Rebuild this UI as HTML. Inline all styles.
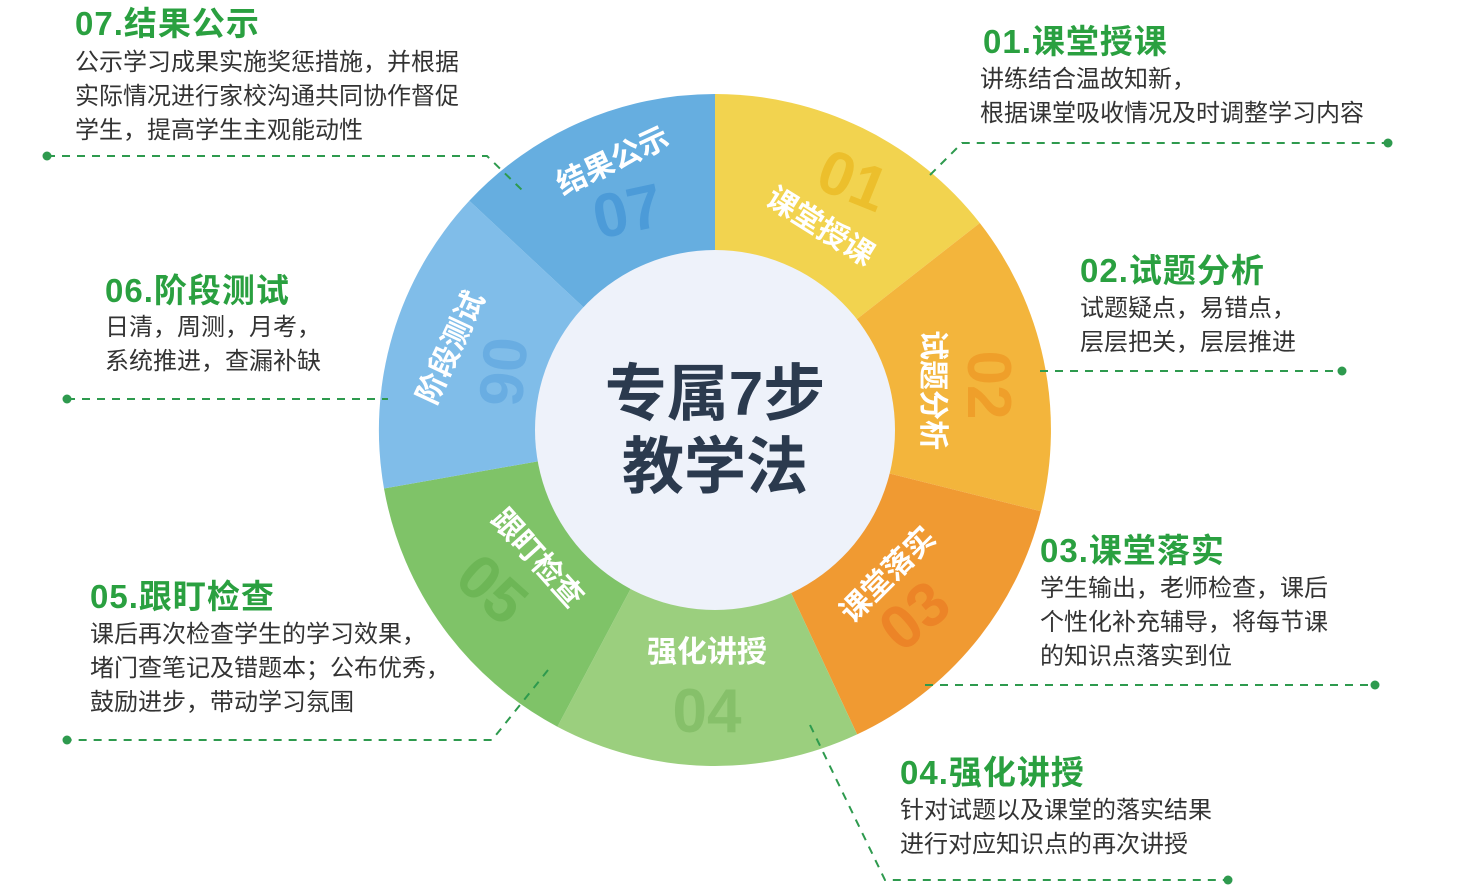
<!DOCTYPE html>
<html><head><meta charset="utf-8"><style>
html,body{margin:0;padding:0;background:#fff;}
svg{display:block;font-family:"Liberation Sans","Noto Sans CJK SC",sans-serif;}
.t{fill:#2aa040;font-weight:bold;font-size:33px;letter-spacing:1px;}
.b{fill:#333;font-size:24px;}
.seg{fill:#fff;font-weight:bold;font-size:30px;}
.num{font-weight:bold;font-size:62px;}
.dl{stroke:#2e9a4e;stroke-width:2;stroke-dasharray:8 7;fill:none;}
</style></head><body>
<svg width="1465" height="890" viewBox="0 0 1465 890">
<g>
<path d="M715 430 L715 94 A336 336 0 0 1 979.8 223 Z" fill="#f2d34f"/>
<path d="M715 430 L979.8 223 A336 336 0 0 1 1040.9 511.3 Z" fill="#f3b53c"/>
<path d="M715 430 L1040.9 511.3 A336 336 0 0 1 857.1 734.4 Z" fill="#f09a32"/>
<path d="M715 430 L857.1 734.4 A336 336 0 0 1 557.4 726.7 Z" fill="#9bcf7e"/>
<path d="M715 430 L557.4 726.7 A336 336 0 0 1 384 488.5 Z" fill="#7fc368"/>
<path d="M715 430 L384 488.5 A336 336 0 0 1 469.3 200.8 Z" fill="#80bde9"/>
<path d="M715 430 L469.3 200.8 A336 336 0 0 1 715 94 Z" fill="#66aee0"/>
<circle cx="715" cy="430" r="180" fill="#eef2fa"/>
</g>
<text x="715" y="415" text-anchor="middle" font-size="62" font-weight="bold" fill="#2b3a4e">专属7步</text>
<text x="715" y="488" text-anchor="middle" font-size="62" font-weight="bold" fill="#2b3a4e">教学法</text>

<text class="num" fill="#ecbf2c" transform="translate(845,200) rotate(22)" text-anchor="middle">01</text>
<text class="num" fill="#ef9f2a" transform="translate(968,385) rotate(90)" text-anchor="middle">02</text>
<text class="num" fill="#ec8427" transform="translate(928,632) rotate(-40)" text-anchor="middle">03</text>
<text class="num" fill="#86c06a" transform="translate(707,732)" text-anchor="middle">04</text>
<text class="num" fill="#6db656" transform="translate(478,605) rotate(42)" text-anchor="middle">05</text>
<text class="num" fill="#69ade2" transform="translate(482,370) rotate(95)" text-anchor="middle">06</text>
<text class="num" fill="#4c9bd8" transform="translate(632,232) rotate(-12)" text-anchor="middle">07</text>

<text class="seg" transform="translate(815,235) rotate(32)" text-anchor="middle">课堂授课</text>
<text class="seg" transform="translate(923,390) rotate(90)" text-anchor="middle">试题分析</text>
<text class="seg" transform="translate(895,582) rotate(-45)" text-anchor="middle">课堂落实</text>
<text class="seg" transform="translate(707,662)" text-anchor="middle">强化讲授</text>
<text class="seg" transform="translate(530,565) rotate(48)" text-anchor="middle">跟盯检查</text>
<text class="seg" transform="translate(460,352) rotate(-65)" text-anchor="middle">阶段测试</text>
<text class="seg" transform="translate(617,170) rotate(-25)" text-anchor="middle">结果公示</text>

<polyline class="dl" points="47,156 487,156 522,190"/>
<polyline class="dl" points="930,175 962,143 1388,143"/>
<polyline class="dl" points="1040,371 1342,371"/>
<polyline class="dl" points="925,685 1375,685"/>
<polyline class="dl" points="810,725 885,880 1228,880"/>
<polyline class="dl" points="548,670 492,740 67,740"/>
<polyline class="dl" points="67,399 388,399"/>
<g fill="#2e9a4e">
<circle cx="47" cy="156" r="4.5"/><circle cx="1388" cy="143" r="4.5"/><circle cx="1342" cy="371" r="4.5"/>
<circle cx="1375" cy="685" r="4.5"/><circle cx="1228" cy="880" r="4.5"/><circle cx="67" cy="740" r="4.5"/>
<circle cx="67" cy="399" r="4.5"/>
</g>

<text class="t" x="75" y="35">07.结果公示</text>
<text class="b" x="75" y="70">公示学习成果实施奖惩措施，并根据</text>
<text class="b" x="75" y="104">实际情况进行家校沟通共同协作督促</text>
<text class="b" x="75" y="138">学生，提高学生主观能动性</text>

<text class="t" x="983" y="53">01.课堂授课</text>
<text class="b" x="980" y="87">讲练结合温故知新，</text>
<text class="b" x="980" y="121">根据课堂吸收情况及时调整学习内容</text>

<text class="t" x="1080" y="282">02.试题分析</text>
<text class="b" x="1080" y="316">试题疑点，易错点，</text>
<text class="b" x="1080" y="350">层层把关，层层推进</text>

<text class="t" x="1040" y="562">03.课堂落实</text>
<text class="b" x="1040" y="596">学生输出，老师检查，课后</text>
<text class="b" x="1040" y="630">个性化补充辅导，将每节课</text>
<text class="b" x="1040" y="664">的知识点落实到位</text>

<text class="t" x="900" y="784">04.强化讲授</text>
<text class="b" x="900" y="818">针对试题以及课堂的落实结果</text>
<text class="b" x="900" y="852">进行对应知识点的再次讲授</text>

<text class="t" x="90" y="608">05.跟盯检查</text>
<text class="b" x="90" y="642">课后再次检查学生的学习效果，</text>
<text class="b" x="90" y="676">堵门查笔记及错题本；公布优秀，</text>
<text class="b" x="90" y="710">鼓励进步，带动学习氛围</text>

<text class="t" x="105" y="302">06.阶段测试</text>
<text class="b" x="105" y="335">日清，周测，月考，</text>
<text class="b" x="105" y="369">系统推进，查漏补缺</text>
</svg>
</body></html>
